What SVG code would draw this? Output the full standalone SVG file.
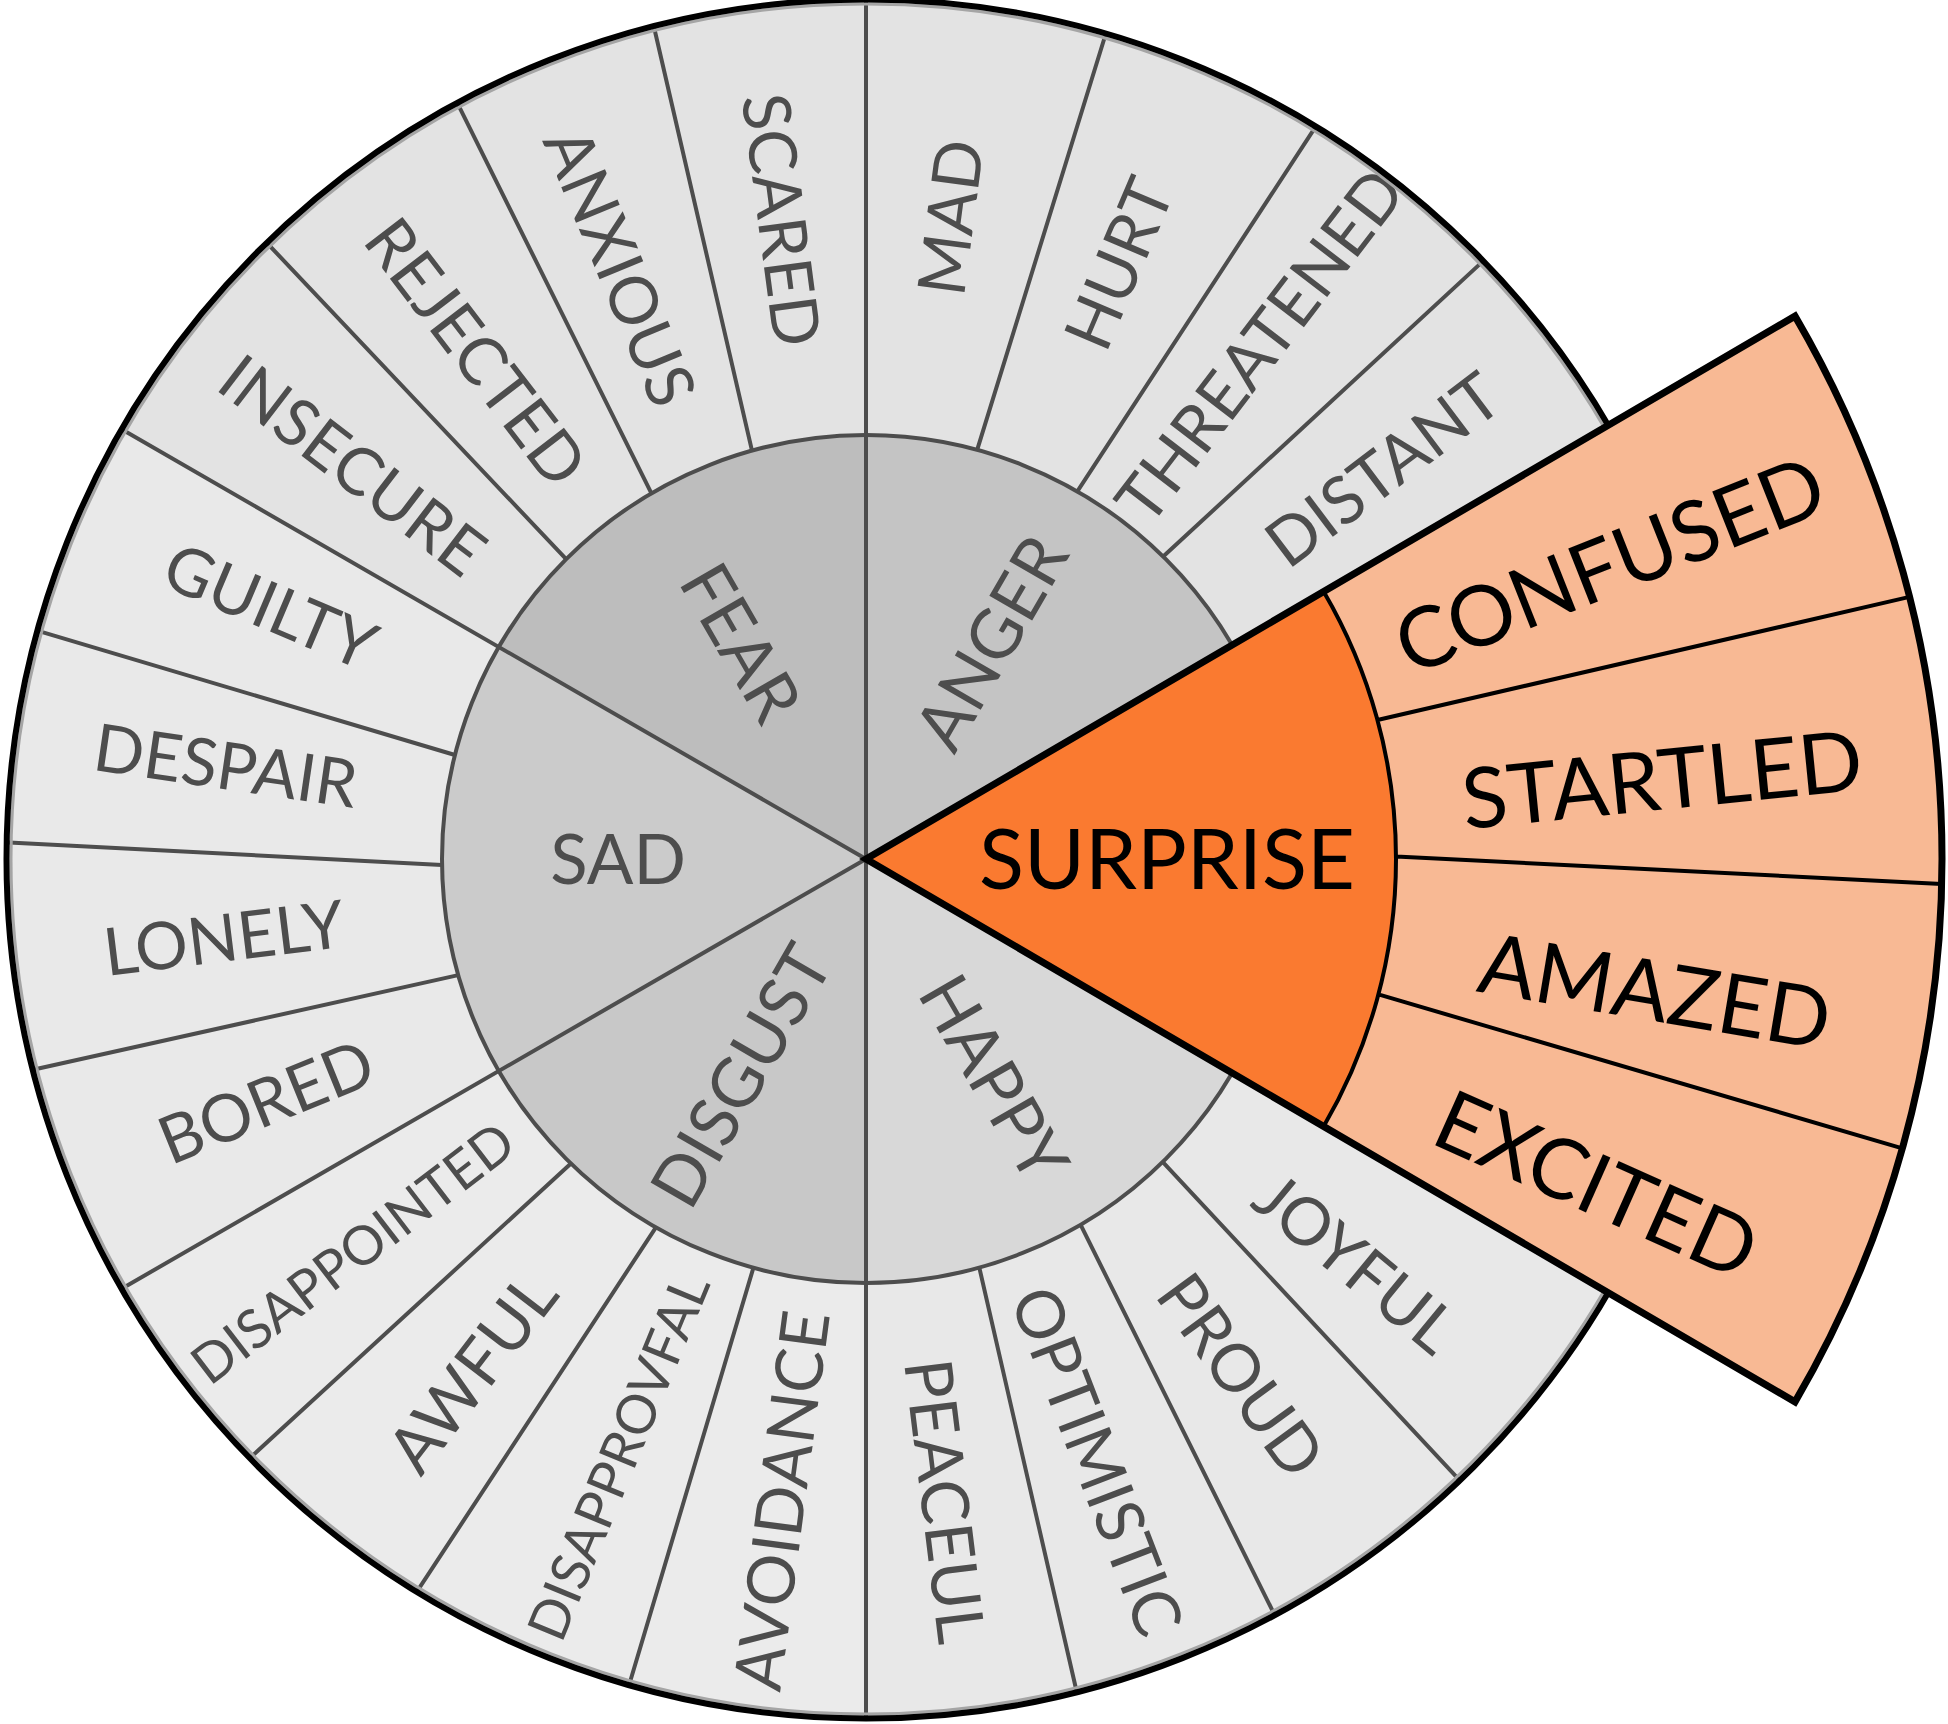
<svg xmlns="http://www.w3.org/2000/svg" width="1948" height="1724" viewBox="0 0 1948 1724">
<style>
.lbl{font-family:Lato,"Open Sans","Liberation Sans",sans-serif;fill:#4d4d4d;text-anchor:middle}
.o{font-size:66px}
.os{font-size:54px}
.c{font-size:69px}
.so{font-size:84px;fill:#000}
.sc{font-size:83px;fill:#000}
.div{stroke:#4d4d4d;stroke-width:4;fill:none}
.sdiv{stroke:#000;stroke-width:4;fill:none}
.fa{fill:#e3e3e3}.ff{fill:#e3e3e3}.fs{fill:#e9e9e9}.fd{fill:#ebebeb}.fh{fill:#e8e8e8}.fp{fill:#f8b994}
</style>
<rect width="1948" height="1724" fill="#fff"/>

<g id="anger">
<path fill="#c4c4c4" d="M866,859 L866,435 A424,424 0 0 1 1233.19,647 Z"/>
<text class="lbl c" transform="translate(991,642.5) rotate(-60)" y="24.7">ANGER</text>
</g>
<g id="mad"><path class="fa" d="M866,435 L866,2 A857,857 0 0 1 1105.09,36.03 L977.17,449.83 A424,424 0 0 0 866,435 Z"/>
<text class="lbl o" transform="translate(950.45,217.54) rotate(-82.5)" y="23.6">MAD</text></g>
<g id="hurt"><path class="fa" d="M977.17,449.83 L1105.09,36.03 A857,857 0 0 1 1314.37,128.65 L1077.36,491.43 A424,424 0 0 0 977.17,449.83 Z"/>
<text class="lbl o" transform="translate(1118.80,263.44) rotate(-67)" y="23.6">HURT</text></g>
<g id="threatened"><path class="fa" d="M1077.36,491.43 L1314.37,128.65 A857,857 0 0 1 1481.44,262.61 L1163.19,556.58 A424,424 0 0 0 1077.36,491.43 Z"/>
<text class="lbl o" transform="translate(1259.87,345.70) rotate(-52.5)" y="23.6">THREATENED</text></g>
<g id="distant"><path class="fa" d="M1163.19,556.58 L1481.44,262.61 A857,857 0 0 1 1608.18,430.5 L1233.19,647 A424,424 0 0 0 1163.19,556.58 Z"/>
<text class="lbl o" transform="translate(1382.72,469.62) rotate(-37)" y="23.6">DISTANT</text></g>

<g id="fear">
<path fill="#bdbdbd" d="M866,859 L498.81,647 A424,424 0 0 1 866,435 Z"/>
<text class="lbl c" transform="translate(741,642.5) rotate(60)" y="24.7">FEAR</text>
</g>
<g id="insecure"><path class="ff" d="M498.81,647 L123.82,430.5 A857,857 0 0 1 268.53,244.61 L566.19,559.19 A424,424 0 0 0 498.81,647 Z"/>
<text class="lbl o" transform="translate(352.70,465.13) rotate(37.5)" y="23.6">INSECURE</text></g>
<g id="rejected"><path class="ff" d="M566.19,559.19 L268.53,244.61 A857,857 0 0 1 458.39,105.14 L651.44,493.30 A424,424 0 0 0 566.19,559.19 Z"/>
<text class="lbl o" transform="translate(476,352) rotate(52.5)" y="23.6">REJECTED</text></g>
<g id="anxious"><path class="ff" d="M651.44,493.30 L458.39,105.14 A857,857 0 0 1 654.32,28.55 L751.98,450.62 A424,424 0 0 0 651.44,493.30 Z"/>
<text class="lbl o" transform="translate(620,267) rotate(67.5)" y="23.6">ANXIOUS</text></g>
<g id="scared"><path class="ff" d="M751.98,450.62 L654.32,28.55 A857,857 0 0 1 866,2 L866,435 A424,424 0 0 0 751.98,450.62 Z"/>
<text class="lbl o" transform="translate(781.55,220) rotate(82.5)" y="23.6">SCARED</text></g>

<g id="sad">
<path fill="#cbcbcb" d="M866,859 L498.81,1071 A424,424 0 0 1 498.81,647 Z"/>
<text class="lbl c" transform="translate(618,859)" y="24.7">SAD</text>
</g>
<g id="bored"><path class="fs" d="M498.81,1071 L123.82,1287.5 A857,857 0 0 1 35.19,1069.23 L458.22,975.16 A424,424 0 0 0 498.81,1071 Z"/>
<text class="lbl o" transform="translate(266.11,1101.37) rotate(-22)" y="23.6">BORED</text></g>
<g id="lonely"><path class="fs" d="M458.22,975.16 L35.19,1069.23 A857,857 0 0 1 9.15,842.55 L442.04,864.92 A424,424 0 0 0 458.22,975.16 Z"/>
<text class="lbl o" transform="translate(223.82,937.85) rotate(-7)" y="23.6">LONELY</text></g>
<g id="despair"><path class="fs" d="M442.04,864.92 L9.15,842.55 A857,857 0 0 1 39.77,631.42 L454.95,754.99 A424,424 0 0 0 442.04,864.92 Z"/>
<text class="lbl o" transform="translate(225.77,765.60) rotate(8.3)" y="23.6">DESPAIR</text></g>
<g id="guilty"><path class="fs" d="M454.95,754.99 L39.77,631.42 A857,857 0 0 1 123.82,430.5 L498.81,647 A424,424 0 0 0 454.95,754.99 Z"/>
<text class="lbl o" transform="translate(270.44,606.20) rotate(23)" y="23.6">GUILTY</text></g>

<g id="disgust">
<path fill="#c8c8c8" d="M866,859 L866,1283 A424,424 0 0 1 498.81,1071 Z"/>
<text class="lbl c" transform="translate(741,1075.5) rotate(-60)" y="24.7">DISGUST</text>
</g>
<g id="avoidance"><path class="fd" d="M866,1283 L866,1716 A857,857 0 0 1 629.78,1682.80 L753.40,1267.78 A424,424 0 0 0 866,1283 Z"/>
<text class="lbl o" transform="translate(781.55,1500.46) rotate(-82.5)" y="23.6">AVOIDANCE</text></g>
<g id="disapprovfal"><path class="fd" d="M753.40,1267.78 L629.78,1682.80 A857,857 0 0 1 418.22,1589.71 L655.92,1227.30 A424,424 0 0 0 753.40,1267.78 Z"/>
<text class="lbl os" transform="translate(618.41,1456.75) rotate(-67.5)" y="19.3">DISAPPROVFAL</text></g>
<g id="awful"><path class="fd" d="M655.92,1227.30 L418.22,1589.71 A857,857 0 0 1 251.61,1456.47 L570.93,1163.49 A424,424 0 0 0 655.92,1227.30 Z"/>
<text class="lbl o" transform="translate(472.13,1372.30) rotate(-52.5)" y="23.6">AWFUL</text></g>
<g id="disappointed"><path class="fd" d="M570.93,1163.49 L251.61,1456.47 A857,857 0 0 1 123.82,1287.5 L498.81,1071 A424,424 0 0 0 570.93,1163.49 Z"/>
<text class="lbl os" transform="translate(352.70,1252.87) rotate(-37.5)" y="19.3">DISAPPOINTED</text></g>

<g id="happy">
<path fill="#d8d8d8" d="M866,859 L1233.19,1071 A424,424 0 0 1 866,1283 Z"/>
<text class="lbl c" transform="translate(994,1078) rotate(60)" y="24.7">HAPPY</text>
</g>
<g id="joyful"><path class="fh" d="M1233.19,1071 L1608.18,1287.5 A857,857 0 0 1 1458.08,1478.59 L1162.66,1161.94 A424,424 0 0 0 1233.19,1071 Z"/>
<text class="lbl o" transform="translate(1355.98,1262.91) rotate(39.5)" y="23.6">JOYFUL</text></g>
<g id="proud"><path class="fh" d="M1162.66,1161.94 L1458.08,1478.59 A857,857 0 0 1 1273.61,1612.86 L1080.56,1224.70 A424,424 0 0 0 1162.66,1161.94 Z"/>
<text class="lbl o" transform="translate(1241.01,1375.15) rotate(54)" y="23.6">PROUD</text></g>
<g id="optimistic"><path class="fh" d="M1080.56,1224.70 L1273.61,1612.86 A857,857 0 0 1 1076.23,1689.82 L979.31,1267.58 A424,424 0 0 0 1080.56,1224.70 Z"/>
<text class="lbl o" transform="translate(1097.15,1461.16) rotate(69)" y="23.6">OPTIMISTIC</text></g>
<g id="peaceul"><path class="fh" d="M979.31,1267.58 L1076.23,1689.82 A857,857 0 0 1 866,1716 L866,1283 A424,424 0 0 0 979.31,1267.58 Z"/>
<text class="lbl o" transform="translate(944.85,1501.18) rotate(83)" y="23.6">PEACEUL</text></g>

<g id="dividers">
<path class="div" d="M866,859 L866,2 M866,859 L866,1716 M866,859 L123.82,1287.5 M866,859 L123.82,430.5 M866,859 L1608.18,430.5 M866,859 L1608.18,1287.5"/>
<path class="div" d="M977.17,449.83 L1105.09,36.03 M1077.36,491.43 L1314.37,128.65 M1163.19,556.58 L1481.44,262.61
M751.98,450.62 L654.32,28.55 M651.44,493.30 L458.39,105.14 M566.19,559.19 L268.53,244.61
M454.95,754.99 L39.77,631.42 M442.04,864.92 L9.15,842.55 M458.22,975.16 L35.19,1069.23
M570.93,1163.49 L251.61,1456.47 M655.92,1227.30 L418.22,1589.71 M753.40,1267.78 L629.78,1682.80
M979.31,1267.58 L1076.23,1689.82 M1080.56,1224.70 L1273.61,1612.86 M1162.66,1161.94 L1458.08,1478.59"/>
<circle class="div" cx="866" cy="859" r="424"/>
<circle cx="866" cy="859" r="855" fill="none" stroke="#a5a5a5" stroke-width="3"/>
<circle cx="866" cy="859" r="859.5" fill="none" stroke="#000" stroke-width="6"/>
</g>

<g id="surprise">
<path class="fp" d="M1323.60,591.60 L1795.02,316.13 A1076,1076 0 0 1 1795.02,1401.87 L1323.60,1126.40 A530,530 0 0 0 1323.60,591.60 Z"/>
<path fill="#fa7a30" d="M866,859 L1323.60,591.60 A530,530 0 0 1 1323.60,1126.40 Z"/>
<text class="lbl sc" transform="translate(1167,859)" y="29.7">SURPRISE</text>
</g>
<g id="confused"><path class="fp" d="M1323.60,591.60 L1795.02,316.13 A1076,1076 0 0 1 1909.58,596.87 L1377.46,720.04 A530,530 0 0 0 1323.60,591.60 Z"/>
<text class="lbl so" transform="translate(1609.82,564.50) rotate(-21.6)" y="30">CONFUSED</text></g>
<g id="startled"><path class="fp" d="M1377.46,720.04 L1909.58,596.87 A1076,1076 0 0 1 1941.71,883.97 L1396,856.5 A530,530 0 0 0 1377.46,720.04 Z"/>
<text class="lbl so" transform="translate(1662.05,779.54) rotate(-5.7)" y="30">STARTLED</text></g>
<g id="amazed"><path class="fp" d="M1396,856.5 L1941.71,883.97 A1076,1076 0 0 1 1902.36,1148.36 L1378.41,994.39 A530,530 0 0 0 1396,856.5 Z"/>
<text class="lbl so" transform="translate(1655.03,991.04) rotate(9.5)" y="30">AMAZED</text></g>
<g id="excited"><path class="fp" d="M1378.41,994.39 L1902.36,1148.36 A1076,1076 0 0 1 1795.02,1401.87 L1323.60,1126.40 A530,530 0 0 0 1378.41,994.39 Z"/>
<text class="lbl so" transform="translate(1596.84,1184.39) rotate(24)" y="30">EXCITED</text></g>

<g id="surprise-dividers">
<path class="sdiv" d="M1377.46,720.04 L1909.58,596.87 M1396,856.5 L1941.71,883.97 M1378.41,994.39 L1902.36,1148.36 M1323.60,591.60 A530,530 0 0 1 1323.60,1126.40"/>
<path d="M866,859 L1795.02,316.13 A1076,1076 0 0 1 1795.02,1401.87 Z" fill="none" stroke="#000" stroke-width="7" stroke-linejoin="miter"/>
</g>
</svg>
